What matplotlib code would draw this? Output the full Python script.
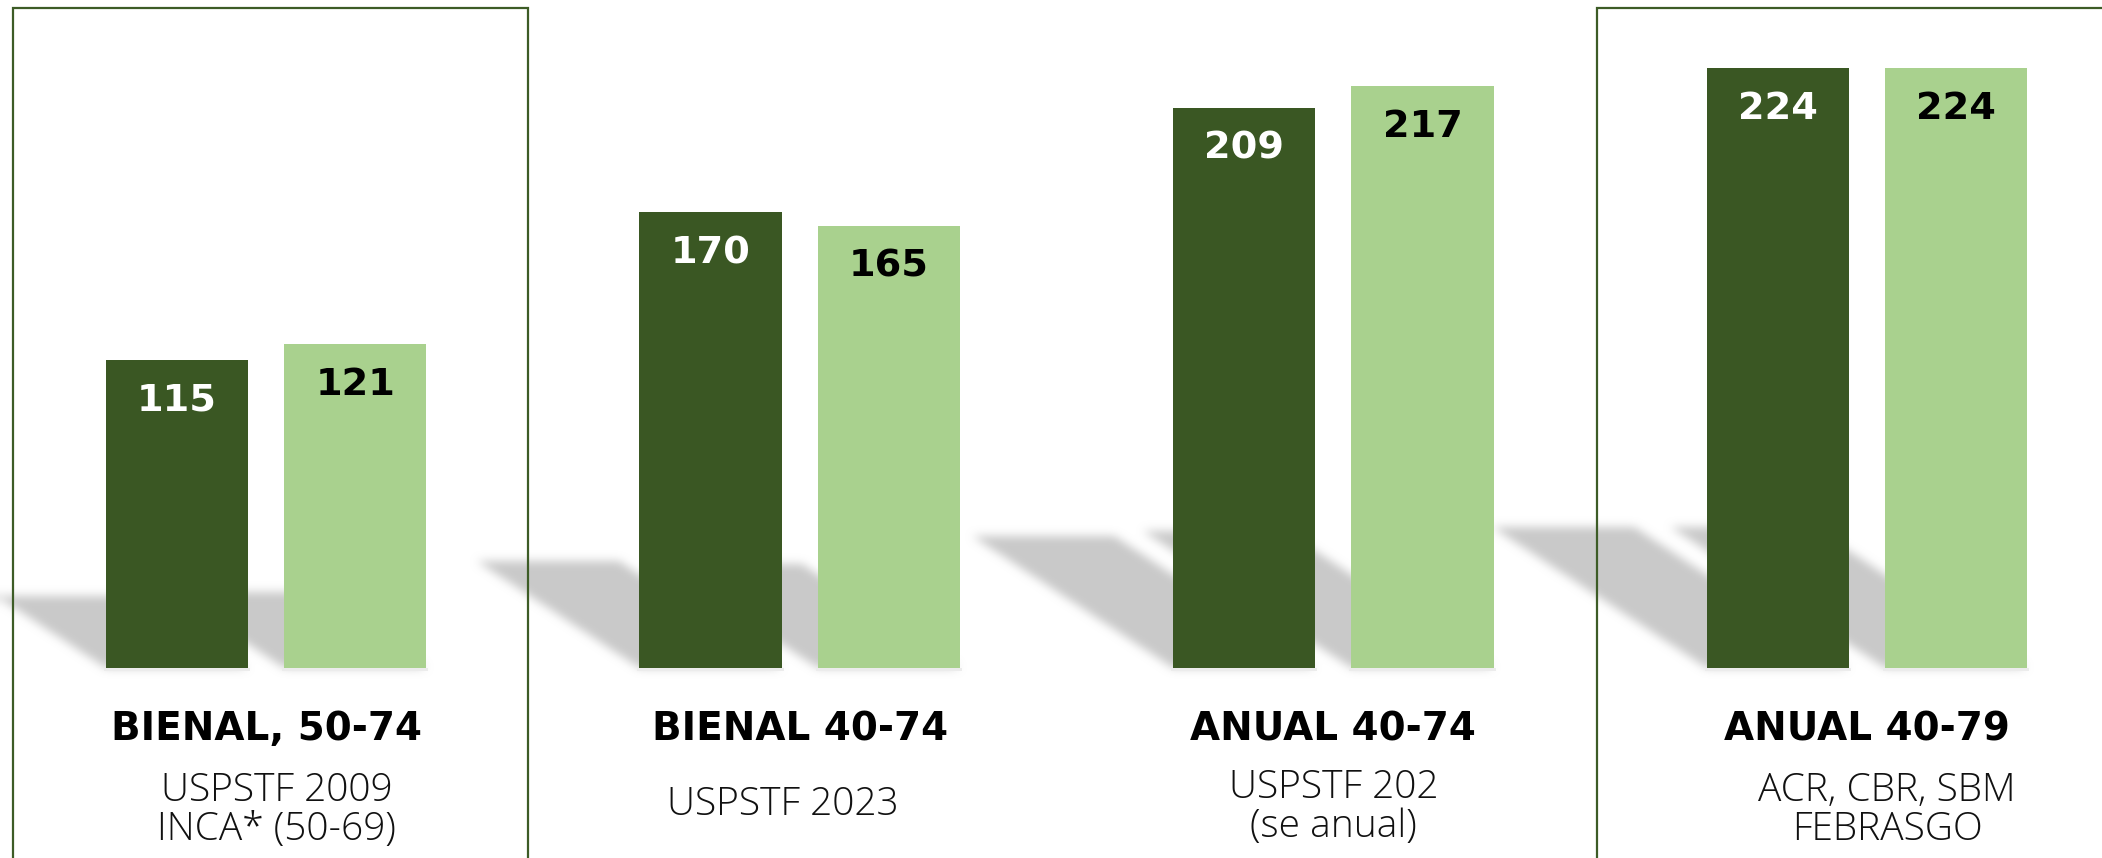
import numpy as np
import matplotlib
matplotlib.use("Agg")
import matplotlib.pyplot as plt
from matplotlib.patches import Rectangle

# ---------------- data ----------------
categories = ["BIENAL, 50-74", "BIENAL 40-74", "ANUAL 40-74", "ANUAL 40-79"]
subtitles = [["USPSTF 2009", "INCA* (50-69)"],
             ["USPSTF 2023"],
             ["USPSTF 202", "(se anual)"],
             ["ACR, CBR, SBM", "FEBRASGO"]]
series_dark = [115, 170, 209, 224]
series_light = [121, 165, 217, 224]

# ---------------- style ----------------
DARK = "#3a5723"
LIGHT = "#a9d18e"
BOX = "#3d5c26"
SHADOW = (0.79, 0.79, 0.79)

W, H = 2102, 858
fig = plt.figure(figsize=(W / 100, H / 100), dpi=100)
ax = fig.add_axes([0, 0, 1, 1])
XL = (-0.4987, 3.4406)
YL = (-70.9, 249.2)
ax.set_xlim(*XL)
ax.set_ylim(*YL)
ax.axis("off")

x = np.arange(len(categories))
bw = 0.2663
off = 0.1671

# ---------------- soft perspective shadows ----------------
k = 0.235          # shadow height relative to bar height
r = 0.00764        # horizontal shift (x-units) per y-unit
nx, ny = W, H
xs = XL[0] + (np.arange(nx) + 0.5) * (XL[1] - XL[0]) / nx
ys = YL[1] - (np.arange(ny) + 0.5) * (YL[1] - YL[0]) / ny
XX, YY = np.meshgrid(xs, ys)
mask = np.zeros((ny, nx))
for xc, vals in ((x - off, series_dark), (x + off, series_light)):
    for cx, v in zip(xc, vals):
        hgt = k * v
        L, R = cx - bw / 2, cx + bw / 2
        inside = (YY >= 0) & (YY <= hgt) & (XX >= L - r * YY) & (XX <= R - r * YY)
        mask[inside] = 1.0


def box_blur(a, rad, axis):
    a = np.swapaxes(a, 0, axis)
    pad = np.pad(a, ((rad + 1, rad), (0, 0)), mode="edge")
    c = np.cumsum(pad, axis=0)
    out = (c[2 * rad + 1:] - c[:-2 * rad - 1]) / (2 * rad + 1)
    return np.swapaxes(out, 0, axis)


for _ in range(3):
    mask = box_blur(mask, 4, 0)
    mask = box_blur(mask, 4, 1)

rgba = np.zeros((ny, nx, 4))
rgba[..., 0] = SHADOW[0]
rgba[..., 1] = SHADOW[1]
rgba[..., 2] = SHADOW[2]
rgba[..., 3] = np.clip(mask, 0, 1)
ax.imshow(rgba, extent=(XL[0], XL[1], YL[0], YL[1]), aspect="auto",
          zorder=1, interpolation="nearest")

# ---------------- bars ----------------
ax.bar(x - off, series_dark, width=bw, color=DARK, zorder=3)
ax.bar(x + off, series_light, width=bw, color=LIGHT, zorder=3)
# faint base line under bars
ax.bar(x - off, [-1.2] * len(x), width=bw * 1.03, color="#ececec", zorder=2)
ax.bar(x + off, [-1.2] * len(x), width=bw * 1.03, color="#ececec", zorder=2)

num_font = dict(family=["DejaVu Sans"], fontweight="bold", fontsize=27.5)
for xi, v in zip(x - off, series_dark):
    ax.annotate(str(v), (xi, v), xytext=(0, -29.5), textcoords="offset points",
                ha="center", va="center", color="white", zorder=4, **num_font)
for xi, v in zip(x + off, series_light):
    ax.annotate(str(v), (xi, v), xytext=(0, -29.5), textcoords="offset points",
                ha="center", va="center", color="black", zorder=4, **num_font)

# ---------------- category labels ----------------
sub_dx = [0.02, -0.032, 0.0, 0.038]
sub_y0 = [-49.6, -54.8, -48.6, -49.6]
line_step = 14.6
for i, (cat, subs) in enumerate(zip(categories, subtitles)):
    ax.text(x[i], -26.9, cat, ha="center", va="baseline", color="black",
            family=["DejaVu Sans"], fontweight="bold", fontsize=28, zorder=4)
    for j, line in enumerate(subs):
        ax.text(x[i] + sub_dx[i], sub_y0[i] - j * line_step, line,
                ha="center", va="baseline", color="#111111",
                family=["Open Sans", "DejaVu Sans"], fontweight="light",
                fontsize=28, zorder=4)

# ---------------- highlight boxes ----------------
for x0, x1 in ((-0.4743, 0.4908), (2.4936, 3.60)):
    ax.add_patch(Rectangle((x0, -120), x1 - x0, 246.2 + 120, fill=False,
                           edgecolor=BOX, linewidth=1.6, zorder=5,
                           clip_on=True))

fig.savefig("out.png", dpi=100, facecolor="white")
